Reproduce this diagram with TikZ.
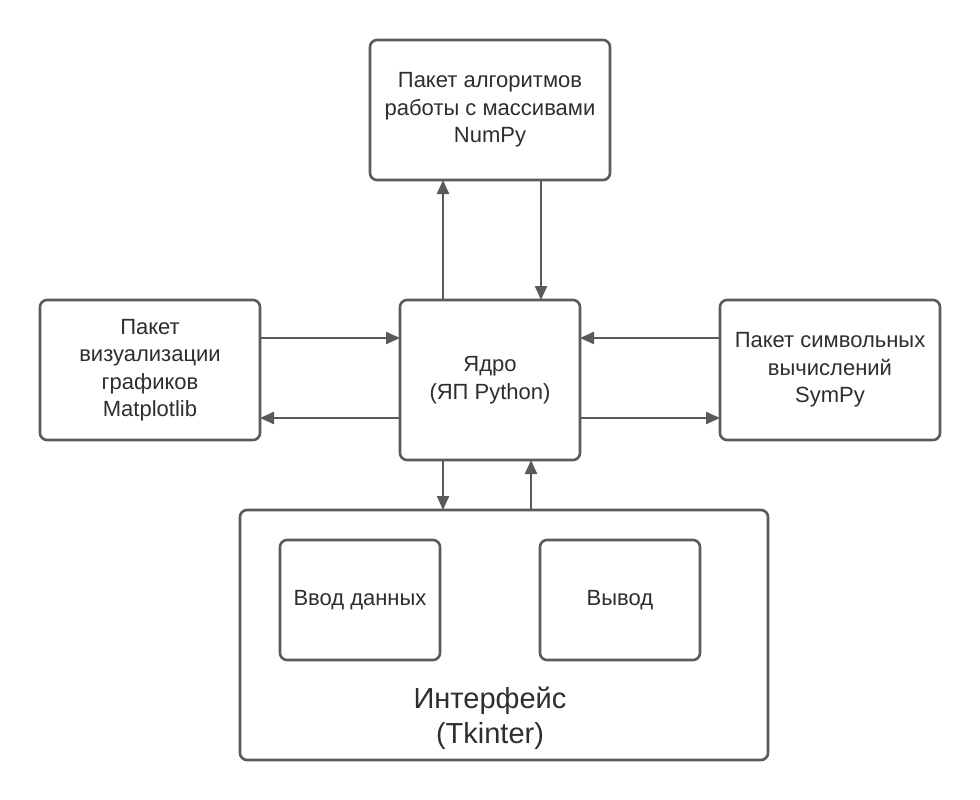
\documentclass[tikz,border=0pt]{standalone}
\usepackage{fontspec}
\setmainfont{Liberation Sans}
\usetikzlibrary{arrows.meta}
\definecolor{edge}{HTML}{5A5A5A}
\definecolor{txt}{HTML}{2E2E2E}
\tikzset{
  box/.style={draw=edge, line width=2.6pt, rounded corners=7pt, fill=white, text=txt, align=center, inner sep=0pt, font=\fontsize{22}{27.5}\selectfont},
  conn/.style={draw=edge, line width=2.2pt, -{Triangle[length=14pt,width=12pt]}}
}
\begin{document}
\begin{tikzpicture}[x=1pt,y=-1pt]
\useasboundingbox (0,0) rectangle (980,800);
\fill[white] (0,0) rectangle (980,800);
% boxes
\node[box, minimum width=240pt, minimum height=140pt] (numpy) at (490,110) {Пакет алгоритмов\\работы с массивами\\NumPy};
\node[box, minimum width=180pt, minimum height=160pt] (core) at (490,380) {Ядро\\(ЯП Python)};
\node[box, minimum width=220pt, minimum height=140pt] (mpl) at (150,370) {Пакет\\визуализации\\графиков\\Matplotlib};
\node[box, minimum width=220pt, minimum height=140pt] (sympy) at (830,370) {Пакет символьных\\вычислений\\SymPy};
\node[box, minimum width=528pt, minimum height=250pt] (ui) at (504,635) {};
\node[box, minimum width=160pt, minimum height=120pt] (inp) at (360,600) {Ввод данных};
\node[box, minimum width=160pt, minimum height=120pt] (out) at (620,600) {Вывод};
\node[text=txt, align=center, font=\fontsize{29}{35}\selectfont] (uitext) at (490,718) {Интерфейс\\(Tkinter)};
% connectors
\coordinate (c1) at (443,300); \coordinate (n1) at (443,180);
\coordinate (n2) at (541,180); \coordinate (c2) at (541,300);
\draw[conn] (c1) -- (n1);
\draw[conn] (n2) -- (c2);
\coordinate (m1) at (260,338); \coordinate (c3) at (400,338);
\coordinate (c4) at (400,418); \coordinate (m2) at (260,418);
\draw[conn] (m1) -- (c3);
\draw[conn] (c4) -- (m2);
\coordinate (s1) at (720,338); \coordinate (c5) at (580,338);
\coordinate (c6) at (580,418); \coordinate (s2) at (720,418);
\draw[conn] (s1) -- (c5);
\draw[conn] (c6) -- (s2);
\coordinate (c7) at (443,460); \coordinate (u1) at (443,510);
\coordinate (u2) at (531,510); \coordinate (c8) at (531,460);
\draw[conn] (c7) -- (u1);
\draw[conn] (u2) -- (c8);
\end{tikzpicture}
\end{document}
